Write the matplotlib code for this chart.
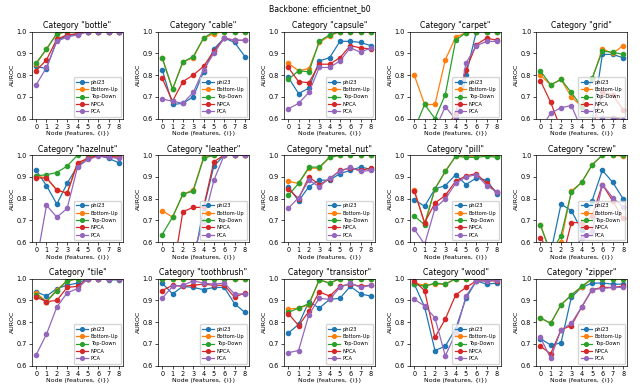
import matplotlib
matplotlib.use("Agg")
import matplotlib.pyplot as plt

nodes = [0, 1, 2, 3, 4, 5, 6, 7, 8]
methods = ["phi23", "Bottom-Up", "Top-Down", "NPCA", "PCA"]
colors = ["#1f77b4", "#ff7f0e", "#2ca02c", "#d62728", "#9467bd"]

bottle_phi23 = [0.84, 0.83, 0.96, 0.98, 0.99, 1.0, 1.0, 1.0, 0.998]
bottle_bu = [0.85, 0.92, 0.99, 1.0, 1.0, 1.0, 1.0, 1.0, 1.0]
bottle_td = [0.855, 0.92, 0.99, 1.0, 1.0, 1.0, 1.0, 1.0, 1.0]
bottle_npca = [0.82, 0.87, 0.965, 0.985, 0.99, 1.0, 1.0, 1.0, 1.0]
bottle_pca = [0.755, 0.835, 0.955, 0.975, 0.985, 1.0, 1.0, 1.0, 1.0]

cable_phi23 = [0.825, 0.665, 0.67, 0.70, 0.815, 0.92, 0.97, 0.95, 0.885]
cable_bu = [0.88, 0.735, 0.86, 0.88, 0.97, 0.99, 1.0, 1.0, 1.0]
cable_td = [0.88, 0.735, 0.86, 0.885, 0.97, 1.0, 1.0, 1.0, 1.0]
cable_npca = [0.785, 0.68, 0.77, 0.80, 0.84, 0.91, 0.97, 0.96, 0.96]
cable_pca = [0.69, 0.68, 0.67, 0.72, 0.825, 0.90, 0.97, 0.96, 0.96]

capsule_phi23 = [0.79, 0.715, 0.74, 0.865, 0.88, 0.955, 0.955, 0.95, 0.935]
capsule_bu = [0.855, 0.82, 0.83, 0.95, 0.98, 1.0, 1.0, 1.0, 1.0]
capsule_td = [0.78, 0.82, 0.815, 0.955, 0.985, 1.0, 1.0, 1.0, 1.0]
capsule_npca = [0.835, 0.77, 0.765, 0.85, 0.85, 0.88, 0.935, 0.925, 0.92]
capsule_pca = [0.645, 0.67, 0.72, 0.835, 0.835, 0.865, 0.925, 0.905, 0.925]

carpet_phi23 = [0.45, 0.45, 0.45, 0.5, 0.55, 0.8, 1.0, 1.0, 1.0]
carpet_bu = [0.80, 0.665, 0.665, 0.87, 0.975, 0.995, 1.0, 1.0, 1.0]
carpet_td = [0.55, 0.665, 0.60, 0.71, 0.96, 0.995, 1.0, 1.0, 1.0]
carpet_npca = [0.5, 0.5, 0.5, 0.55, 0.625, 0.825, 0.94, 0.97, 0.96]
carpet_pca = [0.5, 0.5, 0.55, 0.655, 0.597, 0.855, 0.935, 0.955, 0.955]

grid_phi23 = [0.5, 0.5, 0.5, 0.5, 0.5, 0.58, 0.895, 0.895, 0.88]
grid_bu = [0.80, 0.755, 0.78, 0.70, 0.655, 0.78, 0.92, 0.90, 0.935]
grid_td = [0.82, 0.755, 0.78, 0.72, 0.655, 0.785, 0.91, 0.905, 0.895]
grid_npca = [0.775, 0.675, 0.55, 0.5, 0.5, 0.55, 0.72, 0.71, 0.64]
grid_pca = [0.55, 0.625, 0.65, 0.66, 0.55, 0.55, 0.605, 0.605, 0.595]

hazelnut_phi23 = [0.93, 0.86, 0.775, 0.87, 0.95, 0.985, 1.0, 0.985, 0.965]
hazelnut_bu = [0.905, 0.895, 0.84, 0.825, 0.96, 0.985, 1.0, 1.0, 0.99]
hazelnut_td = [0.905, 0.91, 0.92, 0.95, 1.0, 1.0, 1.0, 1.0, 1.0]
hazelnut_npca = [0.895, 0.895, 0.84, 0.825, 0.965, 0.985, 1.0, 0.995, 0.99]
hazelnut_pca = [0.5, 0.77, 0.715, 0.755, 0.945, 0.98, 0.995, 0.99, 0.985]

leather_phi23 = [0.4, 0.4, 0.45, 0.5, 0.755, 0.95, 1.0, 1.0, 1.0]
leather_bu = [0.745, 0.715, 0.82, 0.84, 0.99, 1.0, 1.0, 1.0, 1.0]
leather_td = [0.635, 0.715, 0.82, 0.835, 0.985, 1.0, 1.0, 1.0, 1.0]
leather_npca = [0.5, 0.45, 0.74, 0.76, 0.76, 0.97, 1.0, 1.0, 1.0]
leather_pca = [0.4, 0.4, 0.45, 0.55, 0.695, 0.885, 1.0, 1.0, 1.0]

metal_nut_phi23 = [0.855, 0.79, 0.855, 0.885, 0.885, 0.915, 0.93, 0.945, 0.935]
metal_nut_bu = [0.88, 0.87, 0.94, 0.94, 0.99, 1.0, 1.0, 1.0, 1.0]
metal_nut_td = [0.815, 0.87, 0.945, 0.945, 0.99, 1.0, 1.0, 1.0, 1.0]
metal_nut_npca = [0.845, 0.80, 0.90, 0.865, 0.89, 0.93, 0.94, 0.93, 0.94]
metal_nut_pca = [0.755, 0.805, 0.885, 0.855, 0.895, 0.925, 0.945, 0.925, 0.93]

pill_phi23 = [0.795, 0.765, 0.845, 0.86, 0.91, 0.865, 0.895, 0.885, 0.82]
pill_bu = [0.84, 0.685, 0.845, 0.925, 0.995, 0.995, 0.995, 1.0, 0.995]
pill_td = [0.72, 0.68, 0.845, 0.925, 0.995, 0.99, 0.99, 0.995, 0.99]
pill_npca = [0.835, 0.69, 0.78, 0.815, 0.88, 0.905, 0.915, 0.87, 0.83]
pill_pca = [0.66, 0.59, 0.755, 0.80, 0.87, 0.90, 0.91, 0.86, 0.83]

screw_phi23 = [0.55, 0.55, 0.775, 0.745, 0.655, 0.79, 0.93, 0.875, 0.80]
screw_bu = [0.68, 0.55, 0.60, 0.835, 0.875, 0.955, 1.0, 1.0, 0.995]
screw_td = [0.68, 0.55, 0.63, 0.83, 0.875, 0.955, 1.0, 1.0, 1.0]
screw_npca = [0.62, 0.55, 0.5, 0.69, 0.69, 0.72, 0.865, 0.79, 0.71]
screw_pca = [0.5, 0.5, 0.5, 0.55, 0.62, 0.65, 0.865, 0.805, 0.76]

tile_phi23 = [0.94, 0.92, 0.955, 0.97, 0.98, 1.0, 1.0, 0.995, 0.995]
tile_bu = [0.935, 0.895, 0.95, 0.99, 1.0, 1.0, 1.0, 1.0, 1.0]
tile_td = [0.925, 0.895, 0.945, 0.99, 1.0, 1.0, 1.0, 1.0, 1.0]
tile_npca = [0.915, 0.895, 0.90, 0.96, 0.965, 1.0, 1.0, 1.0, 1.0]
tile_pca = [0.65, 0.745, 0.87, 0.935, 0.955, 1.0, 1.0, 1.0, 1.0]

toothbrush_phi23 = [0.98, 0.93, 0.965, 0.96, 0.95, 0.96, 0.96, 0.885, 0.845]
toothbrush_bu = [1.0, 1.0, 1.0, 1.0, 1.0, 1.0, 1.0, 1.0, 1.0]
toothbrush_td = [1.0, 0.998, 1.0, 1.0, 1.0, 1.0, 1.0, 1.0, 1.0]
toothbrush_npca = [0.945, 0.97, 0.965, 0.97, 0.975, 0.97, 0.97, 0.915, 0.935]
toothbrush_pca = [0.91, 0.965, 0.97, 0.99, 0.98, 0.975, 0.98, 0.93, 0.93]

transistor_phi23 = [0.75, 0.79, 0.895, 0.865, 0.905, 0.91, 0.965, 0.93, 0.92]
transistor_bu = [0.86, 0.865, 0.88, 0.995, 0.98, 1.0, 1.0, 1.0, 1.0]
transistor_td = [0.845, 0.865, 0.885, 0.995, 0.98, 1.0, 1.0, 1.0, 1.0]
transistor_npca = [0.84, 0.785, 0.85, 0.94, 0.92, 0.965, 0.975, 0.965, 0.97]
transistor_pca = [0.66, 0.67, 0.835, 0.91, 0.905, 0.96, 0.98, 0.96, 0.97]

wood_phi23 = [0.975, 0.87, 0.67, 0.69, 0.77, 0.91, 0.99, 0.975, 0.98]
wood_bu = [0.98, 0.97, 0.975, 0.975, 1.0, 1.0, 1.0, 1.0, 1.0]
wood_td = [0.975, 0.965, 0.98, 0.975, 1.0, 1.0, 1.0, 1.0, 1.0]
wood_npca = [0.99, 0.945, 0.73, 0.815, 0.925, 0.96, 0.99, 0.99, 0.99]
wood_pca = [0.905, 0.875, 0.82, 0.645, 0.75, 0.92, 0.99, 0.99, 0.995]

zipper_phi23 = [0.725, 0.695, 0.705, 0.915, 0.96, 0.98, 0.98, 0.975, 0.975]
zipper_bu = [0.82, 0.795, 0.88, 0.925, 0.96, 1.0, 1.0, 1.0, 1.0]
zipper_td = [0.82, 0.795, 0.88, 0.925, 0.965, 1.0, 1.0, 1.0, 1.0]
zipper_npca = [0.69, 0.655, 0.765, 0.785, 0.87, 0.95, 0.96, 0.96, 0.965]
zipper_pca = [0.73, 0.635, 0.765, 0.795, 0.87, 0.95, 0.955, 0.96, 0.96]

categories = ["bottle", "cable", "capsule", "carpet", "grid",
              "hazelnut", "leather", "metal_nut", "pill", "screw",
              "tile", "toothbrush", "transistor", "wood", "zipper"]
g = globals()
data = {c: [g[f"{c}_phi23"], g[f"{c}_bu"], g[f"{c}_td"], g[f"{c}_npca"], g[f"{c}_pca"]]
        for c in categories}

fig, axes = plt.subplots(3, 5, figsize=(6.4, 3.85), dpi=100)
fig.subplots_adjust(left=0.05, right=0.98, top=0.918, bottom=0.05,
                    wspace=0.385, hspace=0.42)
fig.suptitle("Backbone: efficientnet_b0", fontsize=5.6, y=0.99)

for ax, cat in zip(axes.flat, categories):
    for series, name, col in zip(data[cat], methods, colors):
        ax.plot(nodes, series, marker="o", markersize=3.0, linewidth=0.9,
                color=col, label=name)
    ax.set_ylim(0.6, 1.0)
    ax.set_xlim(-0.4, 8.4)
    ax.set_xticks(nodes)
    ax.set_yticks([0.6, 0.7, 0.8, 0.9, 1.0])
    ax.tick_params(labelsize=4.7, length=2.2, width=0.5, pad=1.5)
    ax.set_title(f'Category "{cat}"', fontsize=5.6, pad=2.5)
    ax.set_xlabel("Node (features, {i})", fontsize=4.5, labelpad=1)
    ax.set_ylabel("AUROC", fontsize=4.5, labelpad=1.5)
    for s in ax.spines.values():
        s.set_linewidth(0.5)
    ax.legend(loc="lower right", fontsize=3.7, handlelength=2.2,
              borderpad=0.5, labelspacing=0.45, handletextpad=0.6,
              borderaxespad=0.4, markerscale=0.9)

fig.savefig("out.png", dpi=100)
